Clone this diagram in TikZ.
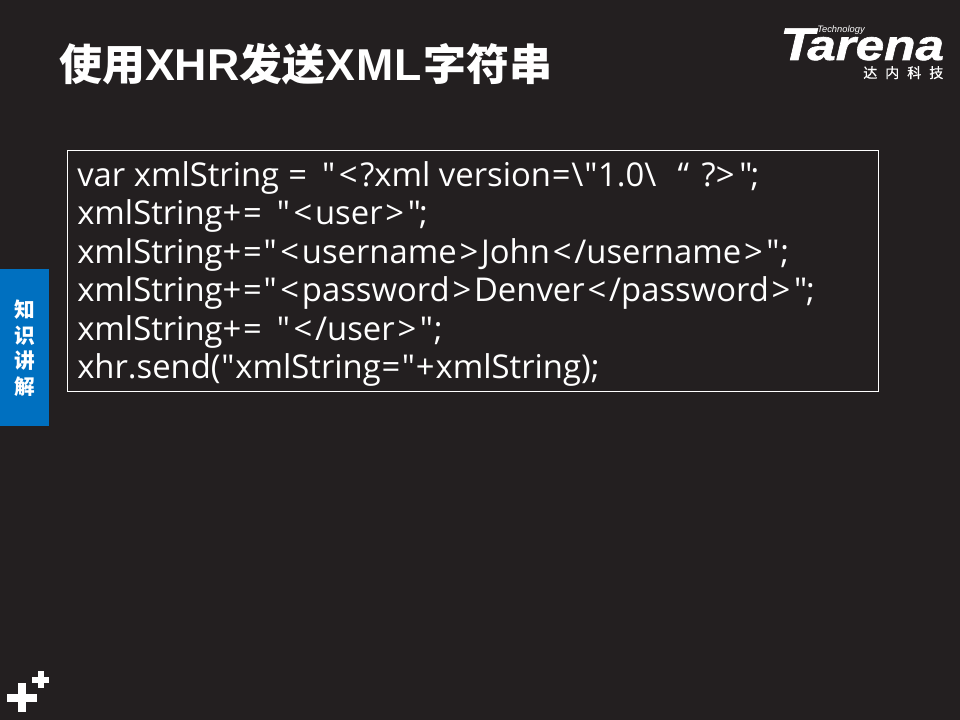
\documentclass[tikz,border=0pt]{standalone}
\usepackage{fontspec}
\setmainfont{Open Sans}
\newfontfamily\codefont{Open Sans}
\newfontfamily\cjk{Noto Sans CJK SC}
\newfontfamily\logofont[FakeStretch=1.2,FakeBold=1.5]{Liberation Sans}
\newfontfamily\logoplain{Liberation Sans}
\newfontfamily\cjklogo[FakeBold=0.6]{Noto Sans CJK SC}
\definecolor{bgc}{HTML}{231F20}
\definecolor{bluec}{HTML}{0070C0}
\newcommand\cLT{\kern2.1pt<\kern2.1pt}
\newcommand\cGT{\kern2.1pt>\kern2.1pt}
\newcommand\cQ{\kern0.6pt"\kern0.6pt}
\newcommand\cEQ{\kern0.6pt=\kern0.6pt}
\newcommand\cPL{+\kern0.8pt}
\newcommand\cBS{\textbackslash}
\newcommand\cGap{\kern3.5pt}
\tikzset{
  x=0.75pt,y=-0.75pt,
  code/.style={anchor=base west,inner sep=0pt,text=white,font=\codefont\fontsize{24.6pt}{28pt}\selectfont},
  side/.style={inner sep=0pt,text=white,font=\cjk\bfseries\fontsize{15.5pt}{15.5pt}\selectfont},
  plusmark/.style={fill=white,draw=none},
  logotxt/.style={inner sep=0pt,anchor=base west,text=white}
}
\begin{document}
\begin{tikzpicture}
\useasboundingbox (0,0) rectangle (960,720);
\fill[bgc] (0,0) rectangle (960,720);
\node[inner sep=0pt,anchor=base west,text=white,font=\cjk\bfseries\fontsize{32.2pt}{36pt}\selectfont] (title) at (59,81) {使用{\logoplain\bfseries\fontsize{33.5pt}{36pt}\selectfont XHR}发送{\logoplain\bfseries\fontsize{33.5pt}{36pt}\selectfont X\kern1pt M\kern1pt L\kern1pt}字符串};
\fill[bluec] (0,269) rectangle (49,426);
\node[side] (s1) at (24.5,310) {知};
\node[side] (s2) at (24.5,336) {识};
\node[side] (s3) at (24.5,361) {讲};
\node[side] (s4) at (24.5,387) {解};
\draw[white,line width=0.75pt] (67.5,150.5) rectangle (878.5,391.5);
\node[code] (l1) at (77,187) {var xmlString \cEQ{} \cGap\cQ\cLT?xml version\cEQ\cBS\cQ 1.0\cBS\ \ \kern3pt“\kern3pt\ ?\kern-2pt\cGT\kern1pt\cQ\kern-2pt;};
\node[code] (l2) at (77,225) {xmlString\cPL\cEQ{} \cGap\cQ\cLT user\cGT\cQ\kern-2pt;};
\node[code] (l3) at (77,264) {xmlString\cPL\cEQ\cQ\cLT username\cGT John\cLT/username\cGT\cQ;};
\node[code] (l4) at (77,301.5) {xmlString\cPL\cEQ\cQ\cLT password\cGT Denver\cLT/password\cGT\cQ\kern-1.5pt;};
\node[code] (l5) at (77,340) {xmlString\cPL\cEQ{} \cGap\cQ\cLT/user\cGT\cQ;};
\node[code] (l6) at (77,378) {xhr.send(\cQ xmlString\cEQ\cQ\cPL xmlString);};
% logo
\node[logotxt,text=white] (logoW) at (780,60) {\logofont\bfseries\itshape\fontsize{34.5pt}{36pt}\selectfont T\kern-5pt\fontsize{32pt}{36pt}\selectfont arena};
\node[logotxt,font=\logoplain\itshape\fontsize{7pt}{7pt}\selectfont] (logoS) at (817,33) {Technology};
\node[logotxt,font=\cjklogo\fontsize{10.5pt}{11pt}\selectfont] (logoC) at (863,78) {达\hspace{6pt}内\hspace{6pt}科\hspace{6pt}技};
% plus marks
\fill[plusmark] (18,683) rectangle (26,712);
\fill[plusmark] (7,694) rectangle (37,702);
\fill[plusmark] (38,671) rectangle (44,688);
\fill[plusmark] (32,677) rectangle (49,683);
\end{tikzpicture}
\end{document}
